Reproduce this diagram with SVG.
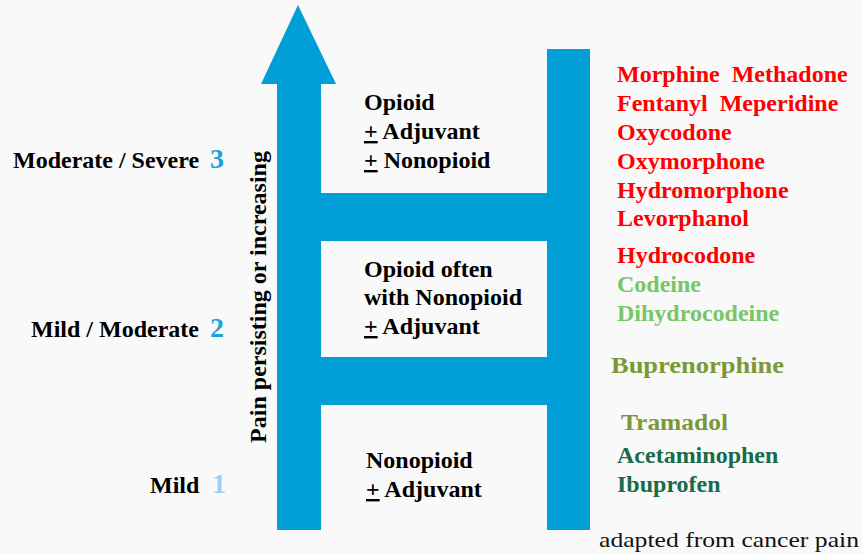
<svg xmlns="http://www.w3.org/2000/svg" width="863" height="554" viewBox="0 0 863 554">
<style>
.t{font-family:"Liberation Serif","Times New Roman",serif;font-weight:bold;font-size:24px;fill:#000}
.r{font-family:"Liberation Serif","Times New Roman",serif;font-weight:bold;font-size:24px}
.red{fill:#ff0000}
.lg{fill:#78c765}
.ol{fill:#7b9837}
.dg{fill:#176b4b}
.num{font-family:"Liberation Serif","Times New Roman",serif;font-size:28px;font-weight:bold}
.u{text-decoration:underline}
.blue{fill:#019ed8}
</style>
<rect width="863" height="554" fill="#f9f9f9"/>
<g id="connectors">
<polygon class="blue" points="298,5 336,84 321,84 321,530 277,530 277,84 261,84"/>
<rect class="blue" x="547" y="49" width="43" height="481"/>
<rect class="blue" x="321" y="193" width="226" height="48"/>
<rect class="blue" x="321" y="357" width="226" height="48"/>
</g>
<g id="axis-label">
<text class="t" transform="translate(266,297) rotate(-90)" text-anchor="middle">Pain persisting or increasing</text>
</g>
<g id="level3">
<text class="t" x="13" y="168">Moderate / Severe</text>
<text class="num" x="210" y="168" fill="#1aa1e0">3</text>
</g>
<g id="level2">
<text class="t" x="31" y="337">Mild / Moderate</text>
<text class="num" x="210" y="337" fill="#1aa1e0">2</text>
</g>
<g id="level1">
<text class="t" x="150" y="493">Mild</text>
<text class="num" x="212" y="493" fill="#9fcdf5">1</text>
</g>
<g id="step3">
<text class="t" x="364" y="110">Opioid</text>
<text class="t" x="364" y="139"><tspan class="u">+</tspan> Adjuvant</text>
<text class="t" x="364" y="168"><tspan class="u">+</tspan> Nonopioid</text>
</g>
<g id="step2">
<text class="t" x="364" y="277">Opioid often</text>
<text class="t" x="364" y="305">with Nonopioid</text>
<text class="t" x="364" y="334"><tspan class="u">+</tspan> Adjuvant</text>
</g>
<g id="step1">
<text class="t" x="366" y="468">Nonopioid</text>
<text class="t" x="366" y="497"><tspan class="u">+</tspan> Adjuvant</text>
</g>
<g id="drugs">
<text class="r red" x="617" y="82" xml:space="preserve">Morphine  Methadone</text>
<text class="r red" x="617" y="111" xml:space="preserve">Fentanyl  Meperidine</text>
<text class="r red" x="617" y="140">Oxycodone</text>
<text class="r red" x="617" y="169">Oxymorphone</text>
<text class="r red" x="617" y="198">Hydromorphone</text>
<text class="r red" x="617" y="226">Levorphanol</text>
<text class="r red" x="617" y="263">Hydrocodone</text>
<text class="r lg" x="617" y="292">Codeine</text>
<text class="r lg" x="617" y="321">Dihydrocodeine</text>
<text class="r ol" x="611" y="373" textLength="173" lengthAdjust="spacingAndGlyphs">Buprenorphine</text>
<text class="r ol" x="621" y="430" textLength="107" lengthAdjust="spacingAndGlyphs">Tramadol</text>
<text class="r dg" x="617" y="463">Acetaminophen</text>
<text class="r dg" x="617" y="492">Ibuprofen</text>
</g>
<g id="source">
<text x="599" y="547" font-family="Liberation Serif, serif" font-size="21" fill="#111" textLength="260" lengthAdjust="spacingAndGlyphs">adapted from cancer pain</text>
</g>
</svg>
